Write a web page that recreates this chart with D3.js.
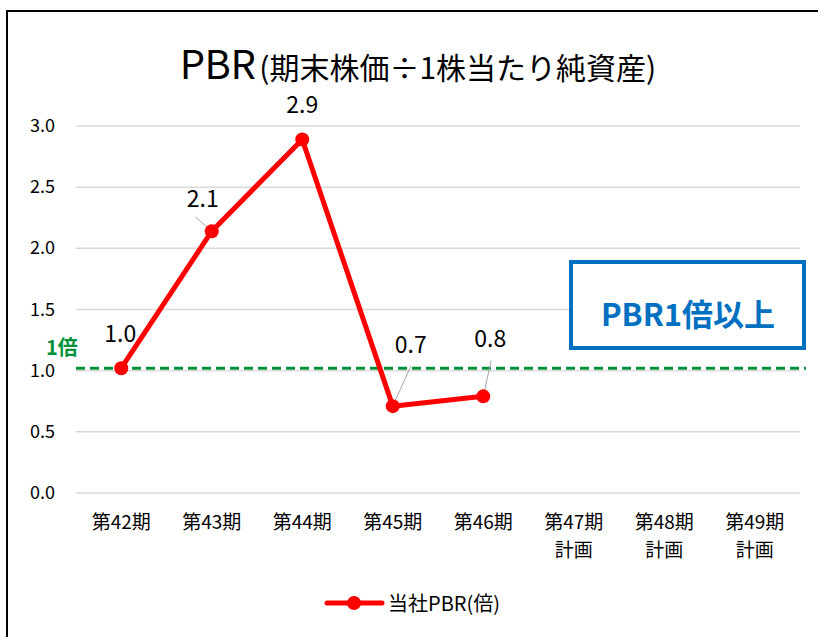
<!DOCTYPE html>
<html>
<head>
<meta charset="utf-8">
<script src="https://cdn.jsdelivr.net/npm/d3@7"></script>
<style>
  body { margin: 0; background: #fff; }
  text { font-family: "Noto Sans CJK JP", "Noto Sans", sans-serif; }
</style>
</head>
<body>
<svg id="chart"></svg>
<script>
// data
const periods = ["第42期", "第43期", "第44期", "第45期", "第46期", "第47期", "第48期", "第49期"];
const planRow = ["", "", "", "", "", "計画", "計画", "計画"];
const pbr = [1.02, 2.14, 2.89, 0.71, 0.79];
const pbrLabels = ["1.0", "2.1", "2.9", "0.7", "0.8"];
const yTicks = [0, 0.5, 1.0, 1.5, 2.0, 2.5, 3.0];
const target = 1.02;

const width = 818, height = 637;
const svg = d3.select("#chart").attr("width", width).attr("height", height);

// outer frame
svg.append("rect").attr("x", 7).attr("y", 11).attr("width", 830).attr("height", 650)
   .attr("fill", "white").attr("stroke", "#000").attr("stroke-width", 2);

const x = d3.scaleBand().domain(periods).range([76, 800]);
const y = d3.scaleLinear().domain([0, 3]).range([493, 126]);

// title
const title = svg.append("text").attr("x", 418).attr("y", 79).attr("text-anchor", "middle").attr("fill", "#000");
title.append("tspan").attr("font-size", 40).attr("textLength", 76).text("PBR");
title.append("tspan").attr("font-size", 30).attr("dx", 4).text("(期末株価÷1株当たり純資産)");

// grid
svg.append("g").selectAll("line").data(yTicks).enter().append("line")
   .attr("x1", 76).attr("x2", 800)
   .attr("y1", d => y(d)).attr("y2", d => y(d))
   .attr("stroke", "#d9d9d9").attr("stroke-width", 1.5);

// y axis labels
svg.append("g").selectAll("text").data(yTicks).enter().append("text")
   .attr("x", 55).attr("y", d => y(d) + 6).attr("text-anchor", "end")
   .attr("font-size", 18).attr("fill", "#000").text(d => d.toFixed(1));

// x axis labels
const xl = svg.append("g");
xl.selectAll("text.p").data(periods).enter().append("text").attr("class", "p")
  .attr("x", d => x(d) + x.bandwidth() / 2).attr("y", 529).attr("text-anchor", "middle")
  .attr("font-size", 19).attr("fill", "#000").text(d => d);
xl.selectAll("text.q").data(planRow).enter().append("text").attr("class", "q")
  .attr("x", (d, i) => x(periods[i]) + x.bandwidth() / 2).attr("y", 557).attr("text-anchor", "middle")
  .attr("font-size", 19).attr("fill", "#000").text(d => d);

// 1x target line
svg.append("line").attr("x1", 76).attr("x2", 806).attr("y1", y(target)).attr("y2", y(target))
   .attr("stroke", "#00913a").attr("stroke-width", 3).attr("stroke-dasharray", "9,5");
svg.append("text").attr("x", 46).attr("y", 355).attr("font-size", 20).attr("font-weight", "bold")
   .attr("fill", "#00913a").text("1倍");

// target box
svg.append("rect").attr("x", 571).attr("y", 262).attr("width", 233).attr("height", 86)
   .attr("fill", "white").attr("stroke", "#0070c0").attr("stroke-width", 4);
svg.append("text").attr("x", 688).attr("y", 326).attr("text-anchor", "middle")
   .attr("font-size", 31).attr("font-weight", "bold").attr("fill", "#0070c0").text("PBR1倍以上");

// series line
const pts = pbr.map((v, i) => ({ x: x(periods[i]) + x.bandwidth() / 2, y: y(v), v: v, label: pbrLabels[i] }));
svg.append("path").datum(pts)
   .attr("d", d3.line().x(d => d.x).y(d => d.y))
   .attr("fill", "none").attr("stroke", "#ff0000").attr("stroke-width", 5).attr("stroke-linejoin", "round");

// leader lines for shifted labels
const leaders = [null, [-16, -14], null, [18, -40], [8, -36]];
svg.append("g").selectAll("line").data(pts.filter((d, i) => leaders[i]))
   .enter().append("line")
   .attr("x1", d => d.x).attr("y1", d => d.y)
   .attr("x2", d => d.x + leaders[pts.indexOf(d)][0]).attr("y2", d => d.y + leaders[pts.indexOf(d)][1])
   .attr("stroke", "#a6a6a6").attr("stroke-width", 1);

svg.append("g").selectAll("circle").data(pts).enter().append("circle")
   .attr("cx", d => d.x).attr("cy", d => d.y).attr("r", 7).attr("fill", "#ff0000");

// data labels
const offs = [[-1, -26], [-9, -24], [0, -26], [18, -53], [7, -49]];
svg.append("g").selectAll("text").data(pts).enter().append("text")
   .attr("x", (d, i) => d.x + offs[i][0]).attr("y", (d, i) => d.y + offs[i][1])
   .attr("text-anchor", "middle").attr("font-size", 23).attr("fill", "#000").text(d => d.label);

// legend
svg.append("line").attr("x1", 327).attr("x2", 382).attr("y1", 603).attr("y2", 603)
   .attr("stroke", "#ff0000").attr("stroke-width", 5).attr("stroke-linecap", "round");
svg.append("circle").attr("cx", 354).attr("cy", 603).attr("r", 7).attr("fill", "#ff0000");
svg.append("text").attr("x", 388).attr("y", 611).attr("font-size", 20).attr("fill", "#000").text("当社PBR(倍)");
</script>
</body>
</html>
